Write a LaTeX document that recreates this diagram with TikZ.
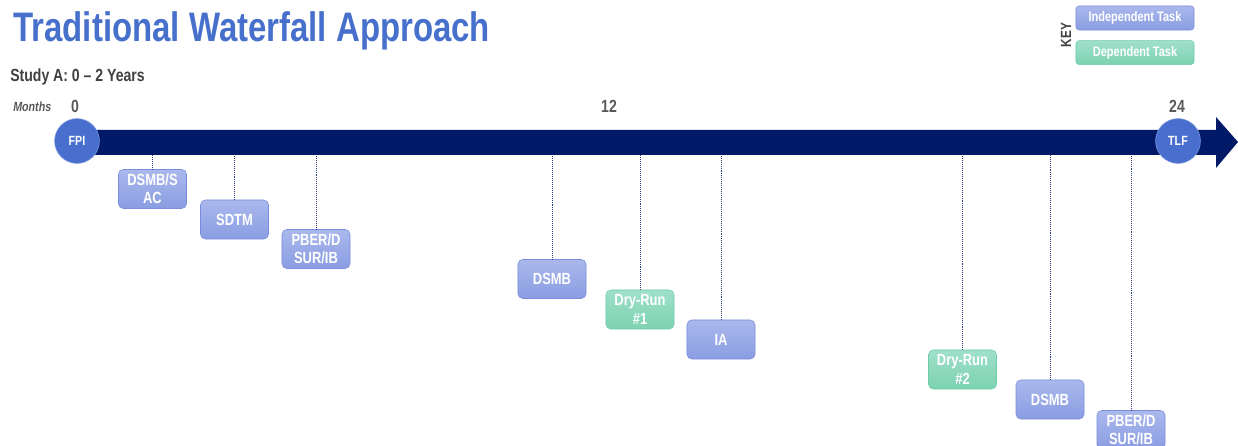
\documentclass[tikz,border=0pt]{standalone}
\usepackage{fontspec}
\setmainfont{Liberation Sans}[FakeStretch=0.8]
\usetikzlibrary{positioning}
\definecolor{titleblue}{RGB}{70,112,204}
\definecolor{navy}{RGB}{0,26,104}
\definecolor{dotblue}{RGB}{40,55,120}
\definecolor{darkgray}{RGB}{64,64,64}
\definecolor{midgray}{RGB}{89,89,89}
\definecolor{circblue}{RGB}{72,110,206}
\definecolor{indtop}{RGB}{170,184,236}
\definecolor{indbot}{RGB}{138,157,226}
\definecolor{indline}{RGB}{122,141,220}
\definecolor{deptop}{RGB}{160,224,202}
\definecolor{depbot}{RGB}{124,210,178}
\definecolor{depline}{RGB}{108,204,166}

\begin{document}
\begin{tikzpicture}[x=0.025cm,y=-0.025cm,
  every node/.style={font=\bfseries},
  task/.style={rounded corners=0.12cm,draw=indline,top color=indtop,bottom color=indbot,
    text=white,minimum width=1.7cm,minimum height=0.975cm,align=center,inner sep=1pt,
    font=\bfseries\fontsize{11.5}{13}\selectfont},
  deptask/.style={task,draw=depline,top color=deptop,bottom color=depbot},
  keybox/.style={rounded corners=0.08cm,text=white,minimum width=2.95cm,minimum height=0.6cm,
    inner sep=1pt,font=\bfseries\fontsize{9.8}{11}\selectfont},
  milestone/.style={circle,fill=circblue,draw=circblue!70!white,minimum size=1.12cm,inner sep=0pt,
    text=white,font=\bfseries\fontsize{9.5}{11}\selectfont},
  month/.style={text=midgray,inner sep=0pt,anchor=base,font=\bfseries\fontsize{12.5}{14}\selectfont},
  link/.style={densely dotted,thin,dotblue}]
\useasboundingbox (0,0) rectangle (1238,446);

% heading
\node[anchor=base west,inner sep=0,text=titleblue,font=\bfseries\fontsize{29.3}{32}\selectfont] (title) at (13,42) {Traditional Waterfall Approach};
\node[anchor=base west,inner sep=0,text=darkgray,font=\bfseries\fontsize{12.5}{14}\selectfont] (study) at (10,82) {Study A: 0 -- 2 Years};

% key
\node[keybox,draw=indline,top color=indtop,bottom color=indbot] (kind) at (1135,18) {Independent Task};
\node[keybox,draw=depline,top color=deptop,bottom color=depbot,below=0.25cm of kind] (kdep) {Dependent Task};
\node[rotate=90,text=darkgray,inner sep=0,font=\bfseries\fontsize{10.5}{12}\selectfont] (key) at (1066,35) {KEY};

% time line
\node[anchor=base west,inner sep=0,text=midgray,font=\bfseries\itshape\fontsize{9.5}{10}\selectfont] (months) at (13,112) {Months};
\node[month] (m0) at (75,113) {0};
\node[month] (m12) at (609,113) {12};
\node[month] (m24) at (1177,113) {24};

\fill[navy] (85,130) -- (1216,130) -- (1216,117) -- (1238,142) -- (1216,168) -- (1216,155) -- (85,155) -- cycle;
\coordinate (barbot) at (0,155);

\node[milestone] (fpi) at (77,141) {FPI};
\node[milestone] (tlf) at (1178,141) {TLF};

% tasks
\node[task] (t1) at (152.5,189) {DSMB/S\\AC};
\node[task] (t2) at (234.5,219.5) {SDTM};
\node[task] (t3) at (316,249) {PBER/D\\SUR/IB};
\node[task] (t4) at (552,279) {DSMB};
\node[deptask] (t5) at (640,309.5) {Dry-Run\\\#1};
\node[task] (t6) at (721,339.5) {IA};
\node[deptask] (t7) at (962.5,369.5) {Dry-Run\\\#2};
\node[task] (t8) at (1050,399.5) {DSMB};
\node[task] (t9) at (1131,430) {PBER/D\\SUR/IB};

\foreach \t in {t1,t2,t3,t4,t5,t6,t7,t8,t9}
  \draw[link] (\t.north) -- (\t.north |- barbot);
\end{tikzpicture}
\end{document}
